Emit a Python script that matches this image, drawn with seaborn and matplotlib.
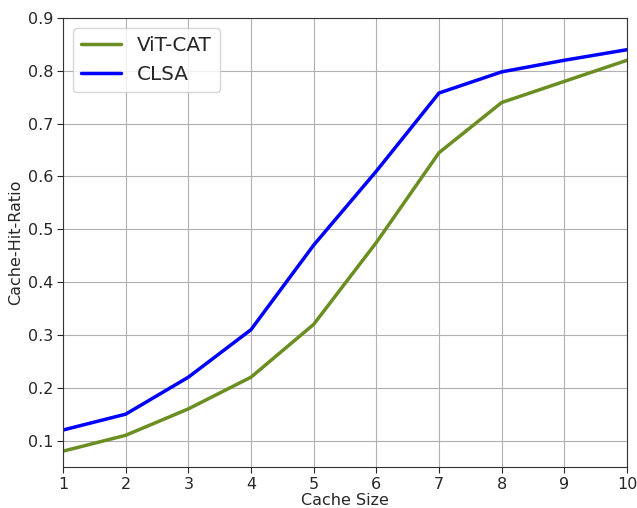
import pandas as pd
import matplotlib
matplotlib.use("Agg")
import matplotlib.pyplot as plt
import seaborn as sns

# data
cache_size = [1, 2, 3, 4, 5, 6, 7, 8, 9, 10]
vit_cat = [0.08, 0.11, 0.16, 0.22, 0.32, 0.475, 0.645, 0.74, 0.78, 0.82]
clsa = [0.12, 0.15, 0.22, 0.31, 0.47, 0.61, 0.758, 0.798, 0.82, 0.84]

df = pd.DataFrame({
    'Cache Size': cache_size * 2,
    'ratio': vit_cat + clsa,
    'method': ['ViT-CAT'] * len(cache_size) + ['CLSA'] * len(cache_size),
})

sns.set_style('white')
plt.rcParams['font.family'] = ['DejaVu Sans']

fig = plt.figure(figsize=(6.37, 5.08), dpi=100)
ax = fig.add_axes([63 / 637, 1 - 467 / 508, (627 - 63) / 637, (467 - 18) / 508])

sns.lineplot(data=df, x='Cache Size', y='ratio', hue='method',
             palette={'ViT-CAT': 'olivedrab', 'CLSA': 'blue'},
             linewidth=2.5, ax=ax)

ax.set_xlim(1, 10)
ax.set_ylim(0.05, 0.9)
ax.set_xticks(cache_size)
ax.set_yticks([0.1, 0.2, 0.3, 0.4, 0.5, 0.6, 0.7, 0.8, 0.9])
ax.tick_params(axis='both', labelsize=11.5, length=4, pad=3, left=True, bottom=True)
ax.grid(True, color='#b0b0b0', linewidth=0.8)
ax.set_xlabel('Cache Size', fontsize=11.5, labelpad=1)
ax.set_ylabel('Cache-Hit-Ratio', fontsize=11.5, labelpad=3)
for s in ax.spines.values():
    s.set_color('#333333')
    s.set_linewidth(0.8)

ax.legend(loc='upper left', fontsize=14.4, handlelength=2.0, frameon=True)

plt.savefig('out.png', dpi=100)
